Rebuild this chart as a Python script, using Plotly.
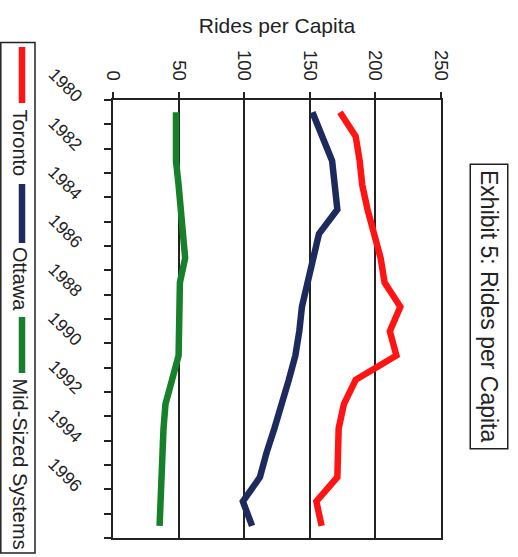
import plotly.graph_objects as go

# ---- data -------------------------------------------------------------
years = list(range(1980, 1998))
toronto = [173, 185, 188, 190, 194, 199, 204, 207, 219, 211, 216, 185,
           176, 172, 171, 171, 155, 159]
ottawa = [152, 160, 167, 169, 171, 157, 153, 149, 144, 142, 139, 134,
          129, 123, 117, 112, 99, 106]
mid_sized = [48, 48, 48, 50, 51.5, 53, 55, 51, 51, 50.5, 50, 45,
             40, 38.5, 37.5, 37, 36, 35.5]
series_names = ["Toronto", "Ottawa", "Mid-Sized Systems"]
value_ticks = [0, 50, 100, 150, 200, 250]
year_labels = [1980, 1982, 1984, 1986, 1988, 1990, 1992, 1994, 1996]

colors = ["#ff1414", "#1e2a5e", "#17802a"]
ink = "#222222"
font_family = "Arial, Liberation Sans, Helvetica, sans-serif"

# ---- page geometry ----------------------------------------------------
W, H = 518, 557
L, R, T, B = 113, 77, 100, 19
PW, PH = W - L - R, H - T - B


def px_x(px):
    return (px - L) / PW


def px_y(py):
    return (T + PH - py) / PH


fig = go.Figure()
for name, vals, col in zip(series_names, [toronto, ottawa, mid_sized], colors):
    fig.add_trace(go.Scatter(
        x=vals, y=years, mode="lines", name=name, showlegend=False,
        line=dict(color=col, width=6.5),
    ))

annotations = []
# year labels, set diagonally beside the category axis
for yr in year_labels:
    annotations.append(dict(
        x=px_x(65.5), xref="paper", y=yr, yref="y", yshift=27,
        text=str(yr), showarrow=False, textangle=45,
        xanchor="center", yanchor="middle",
        font=dict(size=17.5, color=ink, family=font_family),
    ))

# legend drawn upright along the left edge
shapes = [dict(type="rect", xref="paper", yref="paper",
               x0=px_x(0.8), x1=px_x(35), y0=px_y(42.5), y1=px_y(553),
               line=dict(color=ink, width=1.5), fillcolor="rgba(0,0,0,0)")]
swatch_spans = [(47, 103), (184, 243), (317, 373)]
label_tops = [107, 245, 376]
for name, col, (s0, s1), top in zip(series_names, colors, swatch_spans, label_tops):
    shapes.append(dict(type="line", xref="paper", yref="paper",
                       x0=px_x(22), x1=px_x(22), y0=px_y(s0), y1=px_y(s1),
                       line=dict(color=col, width=6.5)))
    annotations.append(dict(
        x=px_x(20), xref="paper", y=px_y(top), yref="paper",
        text=name, showarrow=False, textangle=90,
        xanchor="center", yanchor="top",
        font=dict(size=20, color=ink, family=font_family),
    ))

# boxed exhibit title on the right
annotations.append(dict(
    x=px_x(489.5), xref="paper", y=px_y(306), yref="paper",
    text="Exhibit 5: Rides per Capita", showarrow=False, textangle=90,
    xanchor="center", yanchor="middle",
    bordercolor=ink, borderwidth=1.5, borderpad=5,
    font=dict(size=23, color=ink, family=font_family),
))

fig.update_layout(
    width=W, height=H,
    margin=dict(l=L, r=R, t=T, b=B, autoexpand=False),
    paper_bgcolor="white", plot_bgcolor="white",
    font=dict(family=font_family, color=ink),
    annotations=annotations, shapes=shapes,
    showlegend=False,
    xaxis=dict(
        side="top", range=[0, 250], tickvals=value_ticks,
        tickangle=90, ticks="outside", ticklen=6, tickwidth=1.5, tickcolor=ink,
        tickfont=dict(size=18.5, color=ink), ticklabelstandoff=5,
        showgrid=True, gridcolor=ink, gridwidth=1.5, zeroline=False,
        showline=True, linecolor=ink, linewidth=1.5, mirror=True,
        title=dict(text="Rides per Capita", font=dict(size=21, color=ink),
                   standoff=11),
        automargin=False, fixedrange=True,
    ),
    yaxis=dict(
        range=[1997.5, 1979.5],
        tickvals=[y - 0.5 for y in years] + [years[-1] + 0.5],
        showticklabels=False, ticks="outside", ticklen=7, tickwidth=1.5,
        tickcolor=ink, showgrid=False, zeroline=False,
        showline=True, linecolor=ink, linewidth=1.5, mirror=True,
        automargin=False, fixedrange=True,
    ),
)

fig.write_html("out.html")
